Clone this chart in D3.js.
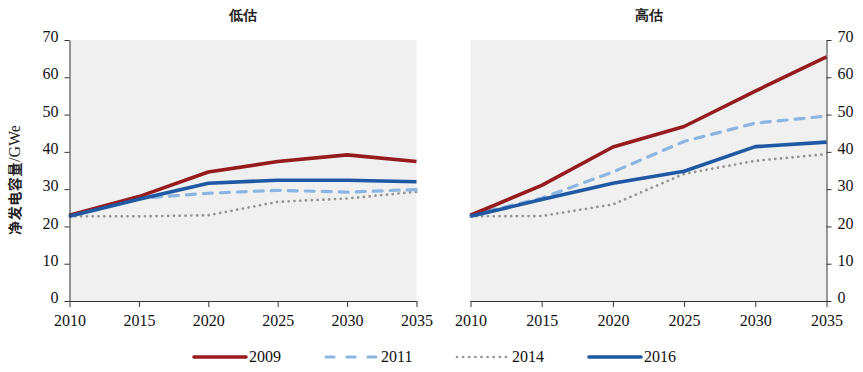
<!DOCTYPE html>
<html>
<head>
<meta charset="utf-8">
<script src="https://cdn.jsdelivr.net/npm/d3@7"></script>
<style>
  body { margin: 0; background: #fff; }
  svg text { font-family: "Liberation Serif", "DejaVu Serif", serif; }
</style>
</head>
<body>
<svg id="chart" width="863" height="372"></svg>
<script>
const svg = d3.select("#chart");

const years = [2010, 2015, 2020, 2025, 2030, 2035];
const yTicks = [0, 10, 20, 30, 40, 50, 60, 70];

// 低估
const low2009 = [23, 28, 34.6, 37.4, 39.2, 37.4];
const low2011 = [23, 27.5, 28.9, 29.7, 29.2, 29.9];
const low2014 = [22.7, 22.7, 23, 26.6, 27.5, 29.3];
const low2016 = [22.7, 27.3, 31.6, 32.4, 32.4, 32];

// 高估
const high2009 = [23, 31, 41.3, 46.8, 56.3, 65.5];
const high2011 = [23, 27.6, 34.6, 42.8, 47.7, 49.6];
const high2014 = [22.7, 22.8, 25.9, 34.1, 37.6, 39.4];
const high2016 = [22.7, 27.2, 31.6, 34.8, 41.4, 42.6];

const seriesNames = ["2009", "2011", "2014", "2016"];

const STYLE = {
  "2009": {color: "#961b1e", width: 3.6, dash: null},
  "2011": {color: "#8db5e2", width: 3.2, dash: "9,8"},
  "2014": {color: "#959595", width: 2.7, dash: "0.1,5.7"},
  "2016": {color: "#1f58a3", width: 3.6, dash: null}
};

const SERIF = "'Liberation Serif', 'Times New Roman', Times, serif";

const marginTop = 40;
const plotBottom = 301;

const panels = [
  {title: "低估", x0: 69.5, x1: 416.5, axis: "left",
   data: {"2009": low2009, "2011": low2011, "2014": low2014, "2016": low2016}},
  {title: "高估", x0: 470.5, x1: 826.5, axis: "right",
   data: {"2009": high2009, "2011": high2011, "2014": high2014, "2016": high2016}}
];

const yScale = d3.scaleLinear().domain([0, 70]).range([plotBottom, marginTop]);

panels.forEach(p => {
  const xScale = d3.scaleLinear().domain([2010, 2035]).range([p.x0, p.x1]);
  const g = svg.append("g");

  g.append("rect")
    .attr("x", p.x0).attr("y", marginTop)
    .attr("width", p.x1 - p.x0).attr("height", plotBottom - marginTop)
    .attr("fill", "#eff0ef");

  g.append("text")
    .attr("x", (p.x0 + p.x1) / 2).attr("y", 20)
    .attr("text-anchor", "middle")
    .attr("font-family", "'Noto Sans CJK SC', sans-serif")
    .attr("font-size", 14)
    .attr("font-weight", "bold")
    .attr("fill", "#222")
    .text(p.title);

  const line = d3.line()
    .x((d, i) => xScale(years[i]))
    .y(d => yScale(d));

  // draw order: dotted, dashed, red, blue
  ["2014", "2011", "2009", "2016"].forEach(k => {
    const s = STYLE[k];
    g.append("path")
      .datum(p.data[k])
      .attr("d", line)
      .attr("fill", "none")
      .attr("stroke", s.color)
      .attr("stroke-width", s.width)
      .attr("stroke-linecap", s.dash ? "round" : "butt")
      .attr("stroke-linejoin", "round")
      .attr("stroke-dasharray", s.dash);
  });

  const xAxis = g.append("g")
    .attr("transform", `translate(0,${plotBottom})`)
    .call(d3.axisBottom(xScale).tickValues(years).tickFormat(d3.format("d")).tickSize(6).tickSizeOuter(0));

  const yAxis = g.append("g")
    .attr("transform", `translate(${p.axis === "left" ? p.x0 : p.x1},0)`)
    .call((p.axis === "left" ? d3.axisLeft(yScale) : d3.axisRight(yScale))
      .tickValues(yTicks).tickSize(5).tickSizeOuter(0).tickPadding(6));

  [xAxis, yAxis].forEach(a => {
    a.attr("font-family", SERIF).attr("font-size", 16);
    a.selectAll("path, line").attr("stroke", "#333").attr("stroke-width", 1);
    a.selectAll("text").attr("fill", "#111");
  });
  xAxis.selectAll("text").attr("dy", "1.0em");
  yAxis.selectAll("text").attr("dy", "0.1em");
});

// y label
const yLabel = svg.append("text")
  .attr("transform", "translate(20,180) rotate(-90)")
  .attr("text-anchor", "middle")
  .attr("fill", "#222");
yLabel.append("tspan")
  .attr("font-family", "'Noto Sans CJK SC', serif")
  .attr("font-size", 14)
  .attr("font-weight", "bold")
  .attr("letter-spacing", 0.6)
  .text("净发电容量");
yLabel.append("tspan")
  .attr("font-family", SERIF)
  .attr("font-size", 16)
  .text("/GWe");

// legend
const legendX = [193, 325, 456, 588];
const legend = svg.append("g").attr("transform", "translate(0,357)");
seriesNames.forEach((k, i) => {
  const s = STYLE[k];
  const x = legendX[i];
  legend.append("line")
    .attr("x1", x + 1).attr("x2", x + 53)
    .attr("y1", 0).attr("y2", 0)
    .attr("stroke", s.color)
    .attr("stroke-width", s.width)
    .attr("stroke-linecap", "round")
    .attr("stroke-dasharray", s.dash === "9,8" ? "8,13" : (s.dash ? "0.1,6" : null));
  legend.append("text")
    .attr("x", x + 56).attr("y", 5)
    .attr("font-family", SERIF)
    .attr("font-size", 16)
    .attr("fill", "#111")
    .text(k);
});
</script>
</body>
</html>
